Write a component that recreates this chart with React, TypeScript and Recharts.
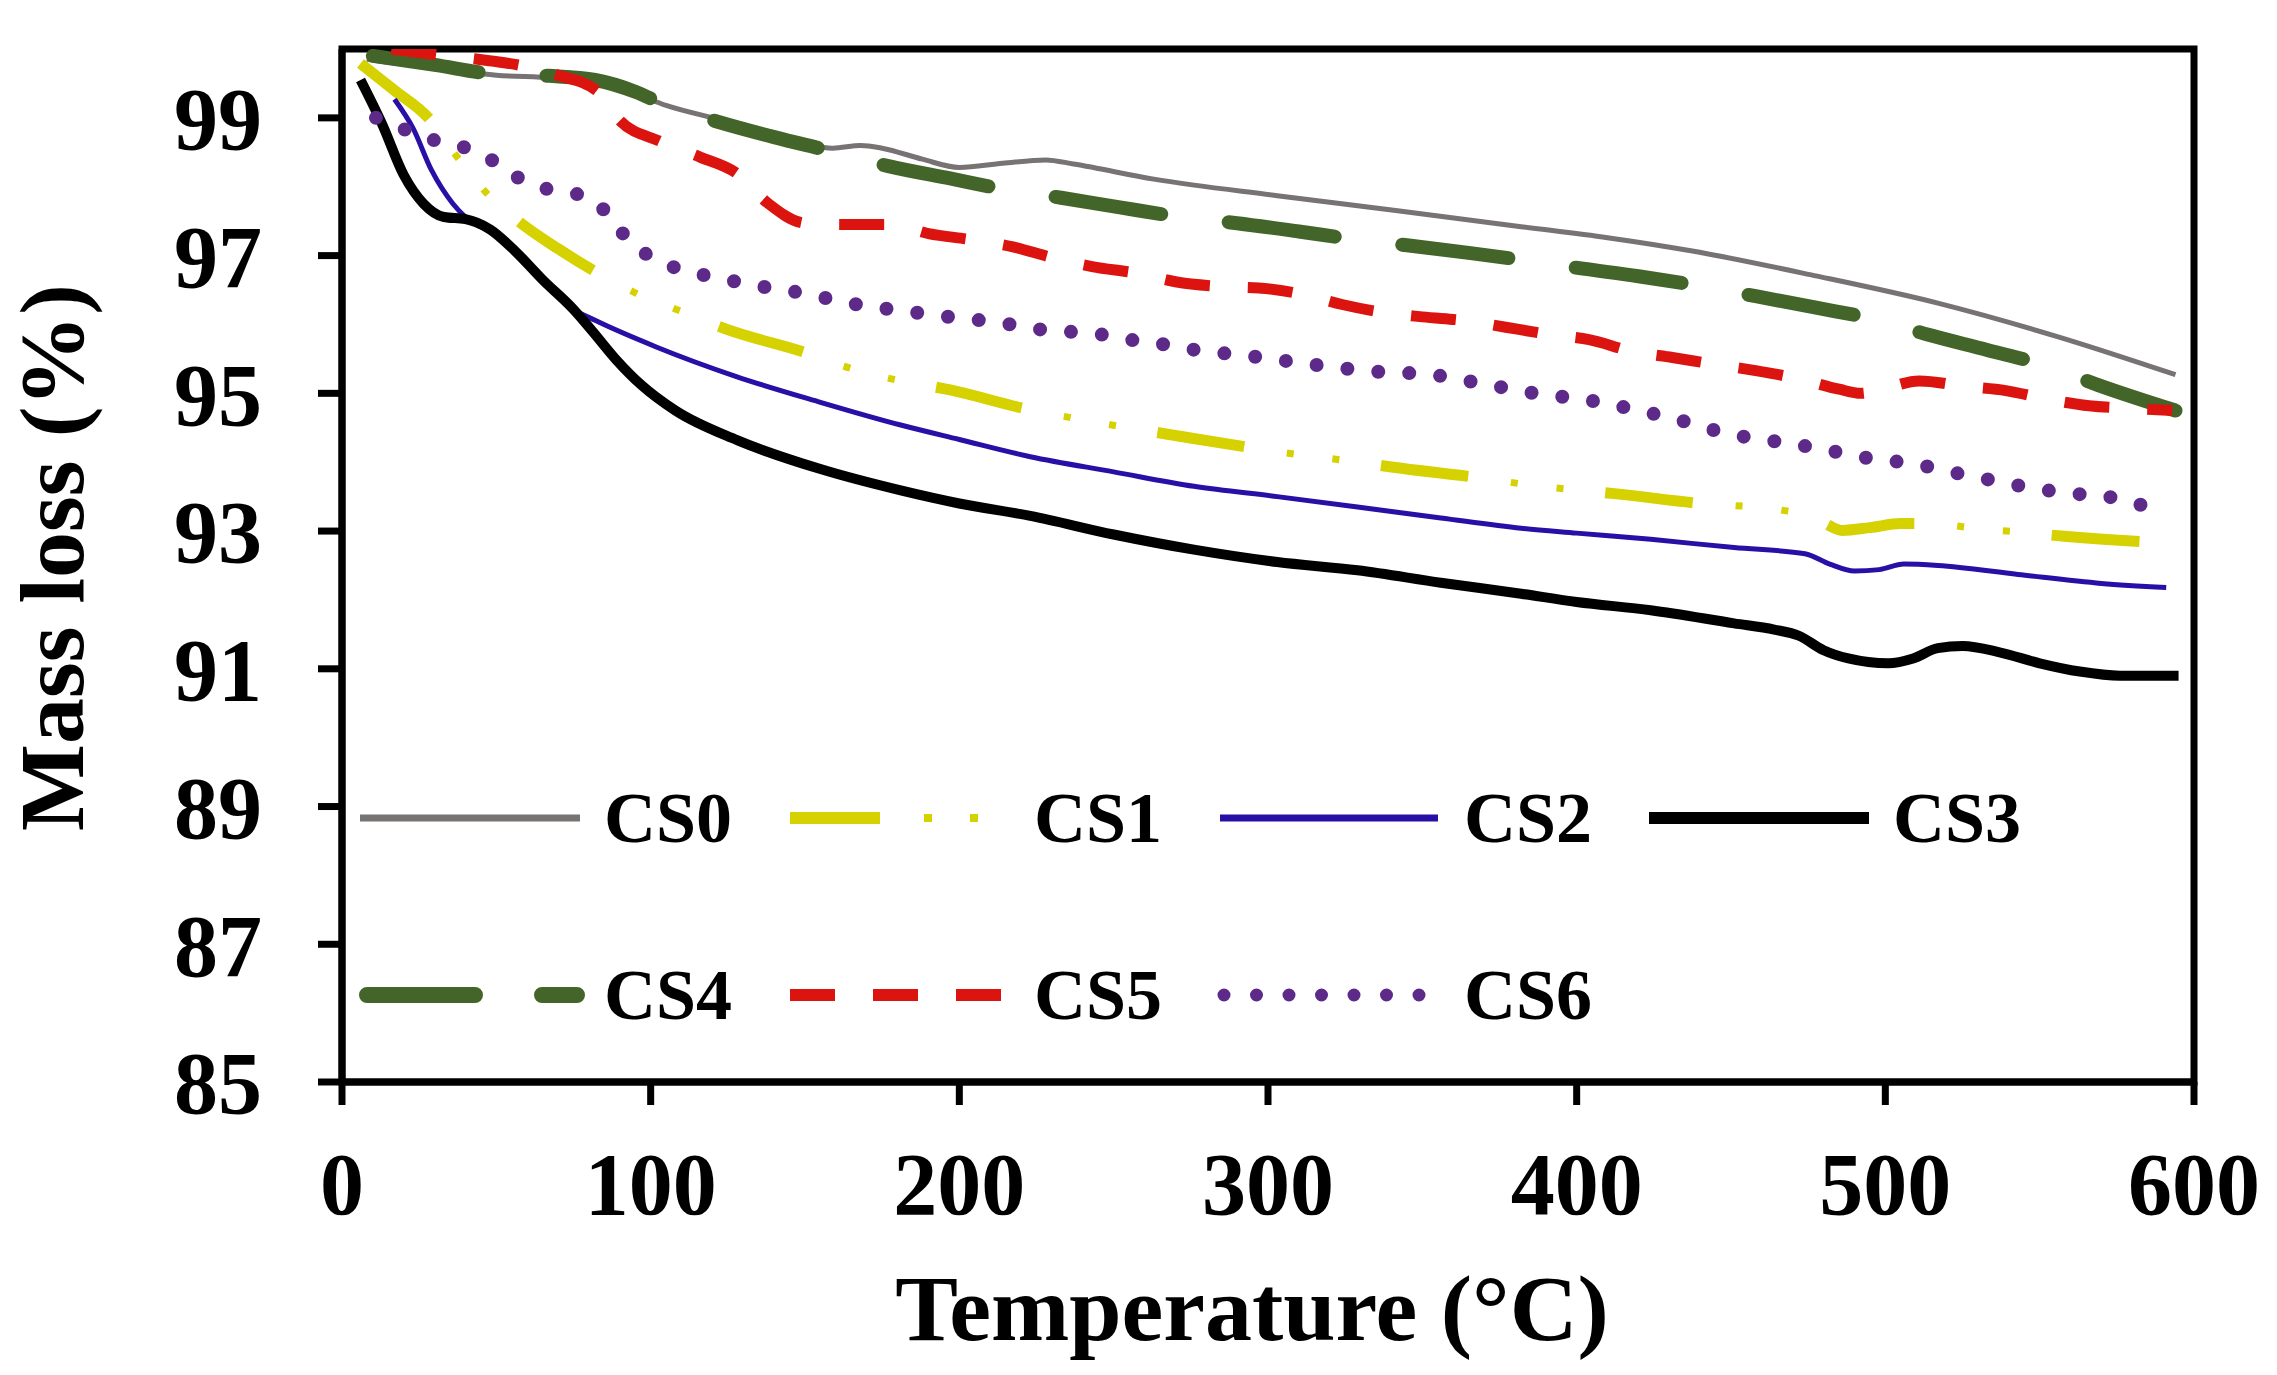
import React from 'react';
import { LineChart, Line, XAxis, YAxis, Legend, ReferenceArea } from 'recharts';

// ---------- data (temperature °C, mass %) ----------
const CS0: [number, number][] = [
  [8, 99.85], [30, 99.72], [50, 99.62], [68, 99.58], [82, 99.52], [95, 99.35], [105, 99.18],
  [122, 98.98], [140, 98.78], [159, 98.56], [168, 98.6], [175, 98.56], [188, 98.4], [200, 98.28],
  [214, 98.34], [228, 98.39], [237, 98.33], [263, 98.11], [303, 97.87], [342, 97.65], [382, 97.42],
  [410, 97.26], [437, 97.07], [477, 96.71], [517, 96.31], [556, 95.82], [594, 95.27],
];
const CS1: [number, number][] = [
  [6, 99.79], [17, 99.4], [28, 99.0], [37, 98.45], [47, 97.9], [58, 97.47], [70, 97.1], [82, 96.77],
  [95, 96.46], [110, 96.19], [124, 95.94], [151, 95.58], [165, 95.36], [180, 95.19], [197, 95.05],
  [223, 94.76], [237, 94.64], [252, 94.52], [267, 94.41], [296, 94.2], [310, 94.11], [326, 94.02],
  [340, 93.93], [369, 93.77], [383, 93.68], [399, 93.6], [413, 93.54], [443, 93.39], [457, 93.35],
  [472, 93.25], [480, 93.12], [486, 93.01], [495, 93.05], [505, 93.11], [515, 93.11], [529, 93.04],
  [545, 92.98], [559, 92.92], [590, 92.83],
];
const CS2: [number, number][] = [
  [17, 99.27], [23, 98.85], [29, 98.24], [36, 97.75], [40, 97.56], [49, 97.32], [62, 96.83],
  [75, 96.22], [82, 96.06], [102, 95.67], [128, 95.24], [155, 94.87], [181, 94.54], [200, 94.33],
  [223, 94.08], [250, 93.86], [276, 93.65], [303, 93.5], [329, 93.35], [356, 93.19], [382, 93.04],
  [400, 92.97], [424, 92.88], [451, 92.76], [474, 92.67], [482, 92.52], [490, 92.42], [498, 92.44],
  [506, 92.52], [517, 92.5], [543, 92.37], [570, 92.24], [591, 92.18],
];
const CS3: [number, number][] = [
  [6, 99.55], [13, 98.91], [20, 98.17], [26.5, 97.75], [33, 97.56], [40, 97.53], [48, 97.38],
  [56, 97.07], [65, 96.65], [75, 96.22], [81, 95.91], [89, 95.48], [97, 95.12], [108, 94.75],
  [128, 94.32], [155, 93.9], [181, 93.59], [200, 93.4], [223, 93.22], [250, 92.95], [276, 92.73],
  [303, 92.55], [329, 92.43], [356, 92.25], [382, 92.09], [400, 91.97], [424, 91.85], [451, 91.66],
  [464, 91.57], [472, 91.48], [480, 91.27], [488, 91.15], [501, 91.08], [509, 91.15], [517, 91.3],
  [525, 91.33], [537, 91.24], [550, 91.08], [563, 90.96], [576, 90.9], [595, 90.9],
];
const CS4: [number, number][] = [
  [10, 99.9], [30, 99.77], [49, 99.64], [67, 99.61], [82, 99.55], [95, 99.38], [105, 99.18],
  [122, 98.94], [140, 98.72], [159, 98.51], [177, 98.3], [197, 98.12], [215, 97.96], [233, 97.84],
  [252, 97.7], [272, 97.56], [290, 97.47], [310, 97.35], [329, 97.23], [345, 97.15], [365, 97.04],
  [385, 96.92], [402, 96.81], [420, 96.7], [441, 96.55], [458, 96.41], [478, 96.24], [498, 96.06],
  [514, 95.85], [533, 95.63], [553, 95.39], [569, 95.12], [594, 94.75],
];
const CS5: [number, number][] = [
  [16, 100.0], [30, 99.92], [44, 99.85], [58, 99.76], [70, 99.62], [83, 99.38], [90, 98.96],
  [103, 98.66], [116, 98.43], [128, 98.19], [138, 97.76], [150, 97.47], [163, 97.45], [178, 97.45],
  [190, 97.32], [204, 97.23], [217, 97.13], [231, 96.96], [243, 96.84], [258, 96.74], [270, 96.62],
  [285, 96.55], [297, 96.53], [312, 96.43], [324, 96.29], [338, 96.17], [350, 96.11], [365, 96.05],
  [377, 95.96], [392, 95.85], [404, 95.78], [418, 95.61], [431, 95.52], [445, 95.42], [458, 95.33],
  [472, 95.21], [485, 95.06], [492, 95.0], [499, 95.06], [511, 95.18], [526, 95.1], [539, 95.04],
  [552, 94.92], [566, 94.82], [580, 94.78], [593, 94.75],
];
const CS6: [number, number][] = [
  [11, 99.0], [21, 98.82], [31, 98.66], [41, 98.55], [50, 98.35], [59, 98.08], [69, 97.94],
  [79, 97.86], [87, 97.56], [93, 97.21], [102, 96.94], [111, 96.78], [122, 96.68], [132, 96.58],
  [142, 96.51], [152, 96.43], [162, 96.33], [173, 96.25], [183, 96.19], [193, 96.13], [203, 96.08],
  [214, 96.02], [224, 95.94], [234, 95.9], [245, 95.86], [255, 95.78], [265, 95.72], [275, 95.64],
  [286, 95.58], [296, 95.53], [306, 95.47], [316, 95.41], [327, 95.35], [337, 95.31], [347, 95.29],
  [358, 95.24], [368, 95.15], [378, 95.07], [388, 94.99], [399, 94.93], [409, 94.86], [419, 94.76],
  [429, 94.66], [439, 94.54], [449, 94.41], [459, 94.34], [470, 94.26], [480, 94.19], [490, 94.09],
  [500, 94.03], [511, 93.96], [521, 93.86], [531, 93.77], [541, 93.68], [551, 93.6], [562, 93.54],
  [572, 93.5], [582, 93.39], [592, 93.25],
];

const X_TICKS = [0, 100, 200, 300, 400, 500, 600];
const Y_TICKS = [85, 87, 89, 91, 93, 95, 97, 99];
const SERIES_NAMES = ['CS0', 'CS1', 'CS2', 'CS3', 'CS4', 'CS5', 'CS6'];
const SERIES_DATA = [CS0, CS1, CS2, CS3, CS4, CS5, CS6];

// ---------- styles ----------
const FONT = "'Liberation Serif', 'Times New Roman', Times, serif";
type Stroke = { w: number; dash?: string; cap?: 'butt' | 'round' };
type LegSeg = Stroke & { x1: number; x2: number };
type Style = { color: string; plot: Stroke[]; legend: LegSeg[] };

const STYLE: Record<string, Style> = {
  CS0: { color: '#787373', plot: [{ w: 5 }], legend: [{ w: 7, x1: 0, x2: 220 }] },
  CS1: {
    color: '#D6D100',
    plot: [
      { w: 11, dash: '88 138' },
      { w: 7, dash: '0 131 7 39 7 42' },
    ],
    legend: [
      { w: 12, dash: '90 136', x1: 0, x2: 220 },
      { w: 8, dash: '0 134 8 38 8 38', x1: 0, x2: 220 },
    ],
  },
  CS2: { color: '#2810A6', plot: [{ w: 5 }], legend: [{ w: 7, x1: 0, x2: 218 }] },
  CS3: { color: '#000000', plot: [{ w: 10 }], legend: [{ w: 12, x1: 0, x2: 220 }] },
  CS4: {
    color: '#44652A',
    plot: [{ w: 14, dash: '107 68', cap: 'round' }],
    legend: [{ w: 16, dash: '108 67', cap: 'round', x1: 7, x2: 217 }],
  },
  CS5: {
    color: '#DC1410',
    plot: [{ w: 11, dash: '45 38' }],
    legend: [{ w: 12, dash: '45 38', x1: 0, x2: 214 }],
  },
  CS6: {
    color: '#5D2A8A',
    plot: [{ w: 14, dash: '0 31', cap: 'round' }],
    legend: [{ w: 13, dash: '0 32.5', cap: 'round', x1: 4, x2: 200 }],
  },
};

// ---------- layout ----------
const W = 2277;
const H = 1375;
const LEG_X0 = 340;
const LEG_Y0 = 760;
const LEG_COLS = [360, 790, 1220, 1649];
const LEG_ROWS = [818, 995];

function LegendContent(props: any) {
  const raw = (props && props.payload) || [];
  let items = raw
    .filter((p: any) => p.type !== 'none' && STYLE[p.value])
    .map((p: any) => p.value as string);
  if (!items.length) items = SERIES_NAMES;
  return (
    <svg width={1720} height={290} style={{ display: 'block', overflow: 'visible' }}>
      {items.map((name: string, i: number) => {
        const st = STYLE[name];
        const x = LEG_COLS[i % 4] - LEG_X0;
        const y = LEG_ROWS[Math.floor(i / 4)] - LEG_Y0;
        return (
          <g key={name}>
            {st.legend.map((seg, j) => (
              <line
                key={j}
                x1={x + seg.x1}
                x2={x + seg.x2}
                y1={y}
                y2={y}
                stroke={st.color}
                strokeWidth={seg.w}
                strokeDasharray={seg.dash}
                strokeLinecap={seg.cap || 'butt'}
              />
            ))}
            <text
              x={x + 244}
              y={y + 24}
              fontFamily={FONT}
              fontWeight="bold"
              fontSize={72}
              fill="#000"
            >
              {name}
            </text>
          </g>
        );
      })}
    </svg>
  );
}

const XTitle = (props: any) => {
  const vb = props.viewBox || { x: 342, y: 1082, width: 1852, height: 100 };
  return (
    <text
      x={vb.x + vb.width / 2 - 16}
      y={vb.y + 258}
      textAnchor="middle"
      fontFamily={FONT}
      fontWeight="bold"
      fontSize={94}
      fill="#000"
    >
      Temperature (°C)
    </text>
  );
};

const YTitle = (props: any) => {
  const vb = props.viewBox || { x: 142, y: 49, width: 200, height: 1033 };
  const cx = vb.x - 59;
  const cy = vb.y + vb.height / 2 - 8;
  return (
    <text
      x={cx}
      y={cy}
      transform={`rotate(-90 ${cx} ${cy})`}
      textAnchor="middle"
      fontFamily={FONT}
      fontWeight="bold"
      fontSize={92}
      fill="#000"
    >
      Mass loss (%)
    </text>
  );
};

const tickStyle = { fontFamily: FONT, fontWeight: 'bold' as const, fontSize: 88, fill: '#000' };

export default function App() {
  return (
    <div
      style={{
        position: 'fixed',
        left: 0,
        top: 0,
        width: W,
        height: H,
        background: '#fff',
        overflow: 'hidden',
      }}
    >
      <LineChart width={W} height={H} margin={{ top: 49, right: 83, bottom: 193, left: 142 }}>
        <XAxis
          type="number"
          dataKey="t"
          domain={[0, 600]}
          ticks={X_TICKS}
          allowDataOverflow
          height={100}
          tickSize={23}
          tickMargin={47}
          axisLine={{ stroke: '#000', strokeWidth: 7 }}
          tickLine={{ stroke: '#000', strokeWidth: 7 }}
          tick={tickStyle}
          label={{ content: XTitle }}
        />
        <YAxis
          type="number"
          domain={[85, 100]}
          ticks={Y_TICKS}
          allowDataOverflow
          width={200}
          tickSize={24}
          tickMargin={56}
          axisLine={{ stroke: '#000', strokeWidth: 7 }}
          tickLine={{ stroke: '#000', strokeWidth: 7 }}
          tick={tickStyle}
          label={{ content: YTitle }}
        />
        <ReferenceArea x1={0} x2={600} y1={85} y2={100} fill="none" stroke="#000" strokeWidth={7} />
        {SERIES_NAMES.map((name, si) => {
          const st = STYLE[name];
          const data = SERIES_DATA[si].map(([t, v]) => ({ t, v }));
          return st.plot.map((p, j) => (
            <Line
              key={name + '_' + j}
              data={data}
              dataKey="v"
              name={j === 0 ? name : name + '_b'}
              legendType={j === 0 ? 'line' : 'none'}
              type="monotone"
              stroke={st.color}
              strokeWidth={p.w}
              strokeDasharray={p.dash}
              strokeLinecap={p.cap || 'butt'}
              dot={false}
              activeDot={false}
              isAnimationActive={false}
            />
          ));
        })}
        <Legend
          layout="horizontal"
          verticalAlign="middle"
          align="center"
          content={LegendContent}
          wrapperStyle={{ position: 'absolute', left: LEG_X0, top: LEG_Y0, width: 1720, height: 290, margin: 0, padding: 0 }}
        />
      </LineChart>
    </div>
  );
}
